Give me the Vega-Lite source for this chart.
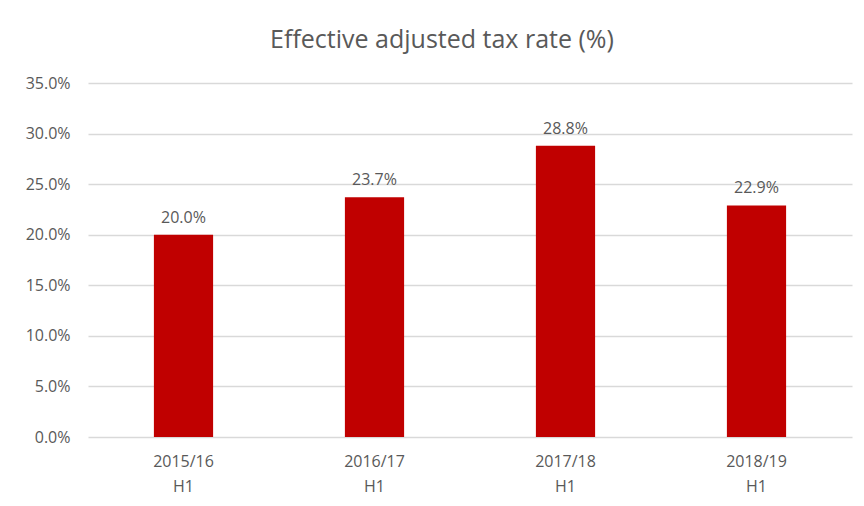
{
  "$schema": "https://vega.github.io/schema/vega-lite/v6.json",
  "autosize": "none",
  "width": 764,
  "height": 354,
  "padding": {"left": 88, "top": 83, "right": 12, "bottom": 69},
  "background": "white",
  "title": {
    "text": "Effective adjusted tax rate (%)",
    "fontSize": 25,
    "font": "Open Sans",
    "fontWeight": "normal",
    "color": "#595959",
    "anchor": "middle",
    "dx": -28,
    "offset": 22
  },
  "data": {
    "values": [
      {"period": "2015/16 H1", "rate": 0.200},
      {"period": "2016/17 H1", "rate": 0.237},
      {"period": "2017/18 H1", "rate": 0.288},
      {"period": "2018/19 H1", "rate": 0.229}
    ]
  },
  "encoding": {
    "x": {
      "field": "period",
      "type": "nominal",
      "sort": null,
      "scale": {"paddingInner": 0.69, "paddingOuter": 0.345},
      "axis": {
        "title": null,
        "labelAngle": 0,
        "labelExpr": "split(datum.value, ' ')",
        "labelLineHeight": 25,
        "labelFontSize": 16,
        "labelFont": "Open Sans",
        "labelColor": "#595959",
        "labelPadding": 16,
        "ticks": false,
        "domain": false
      }
    },
    "y": {
      "field": "rate",
      "type": "quantitative",
      "scale": {"domain": [0, 0.35]},
      "axis": {
        "title": null,
        "format": ".1%",
        "values": [0, 0.05, 0.1, 0.15, 0.2, 0.25, 0.3, 0.35],
        "labelFontSize": 16,
        "labelFont": "Open Sans",
        "labelColor": "#595959",
        "labelPadding": 18,
        "ticks": false,
        "domain": false,
        "gridColor": "#D9D9D9",
        "gridWidth": 1.5
      }
    }
  },
  "layer": [
    {"mark": {"type": "bar", "color": "#C00000"}},
    {
      "mark": {"type": "text", "baseline": "alphabetic", "dy": -12, "fontSize": 16, "font": "Open Sans", "color": "#595959"},
      "encoding": {"text": {"field": "rate", "type": "quantitative", "format": ".1%"}}
    }
  ],
  "config": {"view": {"stroke": null}}
}
